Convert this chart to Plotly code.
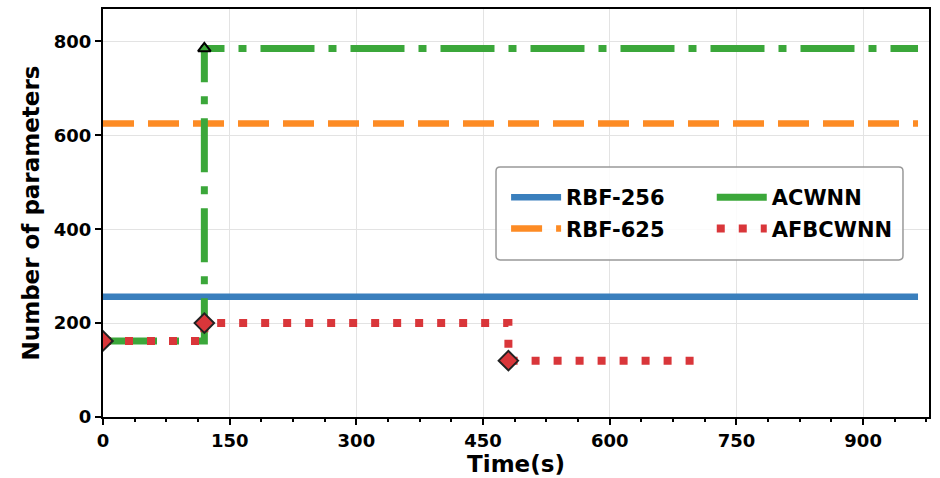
import plotly.graph_objects as go

# ---- data ----
rbf256_x = [0, 965]
rbf256_y = [256, 256]
rbf625_x = [0, 965]
rbf625_y = [625, 625]
acwnn_x = [0, 120, 965]
acwnn_y = [162, 785, 785]
acwnn_mx = [0, 120]
acwnn_my = [162, 785]
afbc_x = [0, 120, 480, 715]
afbc_y = [162, 200, 120, 120]
afbc_mx = [0, 120, 480]
afbc_my = [162, 200, 120]
x_ticks = [0, 150, 300, 450, 600, 750, 900]
y_ticks = [0, 200, 400, 600, 800]

BLUE = "#3a7fbd"
ORANGE = "#fd8b24"
GREEN = "#3ba73a"
RED = "#d9363a"
FONT = "DejaVu Sans"

fig = go.Figure()
fig.add_trace(go.Scatter(x=rbf256_x, y=rbf256_y, mode="lines", name="<b>RBF-256</b>",
                         line=dict(color=BLUE, width=6.5), legend="legend",
                         legendgroup="a"))
fig.add_trace(go.Scatter(x=rbf625_x, y=rbf625_y, mode="lines", name="<b>RBF-625</b>",
                         line=dict(color=ORANGE, width=6.5, dash="31px,14px"), legend="legend",
                         legendgroup="b"))
fig.add_trace(go.Scatter(x=acwnn_x, y=acwnn_y, mode="lines", name="<b>ACWNN</b>",
                         line=dict(color=GREEN, width=7, dash="54px,14px,8px,14px", shape="hv"),
                         legend="legend2", legendgroup="c"))
fig.add_trace(go.Scatter(x=acwnn_mx, y=acwnn_my, mode="markers", showlegend=False,
                         marker=dict(symbol="triangle-up", size=11, color=GREEN,
                                     line=dict(color="black", width=2))))
fig.add_trace(go.Scatter(x=afbc_x, y=afbc_y, mode="lines", name="<b>AFBCWNN</b>",
                         line=dict(color=RED, width=8, dash="8px,14px", shape="hv"),
                         legend="legend2", legendgroup="d"))
fig.add_trace(go.Scatter(x=afbc_mx, y=afbc_my, mode="markers", showlegend=False,
                         marker=dict(symbol="diamond", size=15, color=RED,
                                     line=dict(color="#222222", width=2))))

axis_common = dict(
    showline=True, linecolor="black", linewidth=2, mirror=True,
    showgrid=True, gridcolor="#e3e3e3", gridwidth=1,
    ticks="outside", tickcolor="black", ticklen=6, tickwidth=1.5,
    zeroline=False,
    tickfont=dict(family=FONT, size=18, color="black"),
)

fig.update_xaxes(range=[0, 978], tickmode="array", tickvals=x_ticks,
                 ticktext=[f"<b>{v}</b>" for v in x_ticks],
                 title=dict(text="<b>Time(s)</b>", font=dict(family=FONT, size=23, color="black"),
                            standoff=4),
                 minor=dict(ticks="outside", ticklen=3, tickcolor="black", dtick=37.5, showgrid=False),
                 **axis_common)
fig.update_yaxes(range=[0, 869], tickmode="array", tickvals=y_ticks,
                 ticktext=[f"<b>{v}</b>" for v in y_ticks],
                 title=dict(text="<b>Number of parameters</b>",
                            font=dict(family=FONT, size=23, color="black"), standoff=8),
                 **axis_common)

# legend frame (two legends share one box)
x0, x1, y0, y1 = 0.4758, 0.9685, 0.385, 0.6126
rx, ry = 0.005, 0.01
frame = (f"M {x0+rx},{y0} L {x1-rx},{y0} Q {x1},{y0} {x1},{y0+ry} "
         f"L {x1},{y1-ry} Q {x1},{y1} {x1-rx},{y1} L {x0+rx},{y1} Q {x0},{y1} {x0},{y1-ry} "
         f"L {x0},{y0+ry} Q {x0},{y0} {x0+rx},{y0} Z")

leg_common = dict(
    orientation="v", yanchor="top", xanchor="left",
    font=dict(family=FONT, size=21, color="black"),
    bgcolor="rgba(0,0,0,0)", borderwidth=0,
    itemwidth=50, tracegroupgap=1, traceorder="grouped",
)

fig.update_layout(
    width=940, height=478,
    margin=dict(l=103, r=11, t=7, b=58),
    plot_bgcolor="white", paper_bgcolor="white",
    font=dict(family=FONT, color="black"),
    showlegend=True,
    legend=dict(x=0.488, y=0.588, **leg_common),
    legend2=dict(x=0.737, y=0.588, **leg_common),
    shapes=[dict(type="path", xref="paper", yref="paper", path=frame,
                 fillcolor="rgba(255,255,255,0.85)", line=dict(color="#999999", width=1.5),
                 layer="above")],
)

fig.write_html("out.html")
